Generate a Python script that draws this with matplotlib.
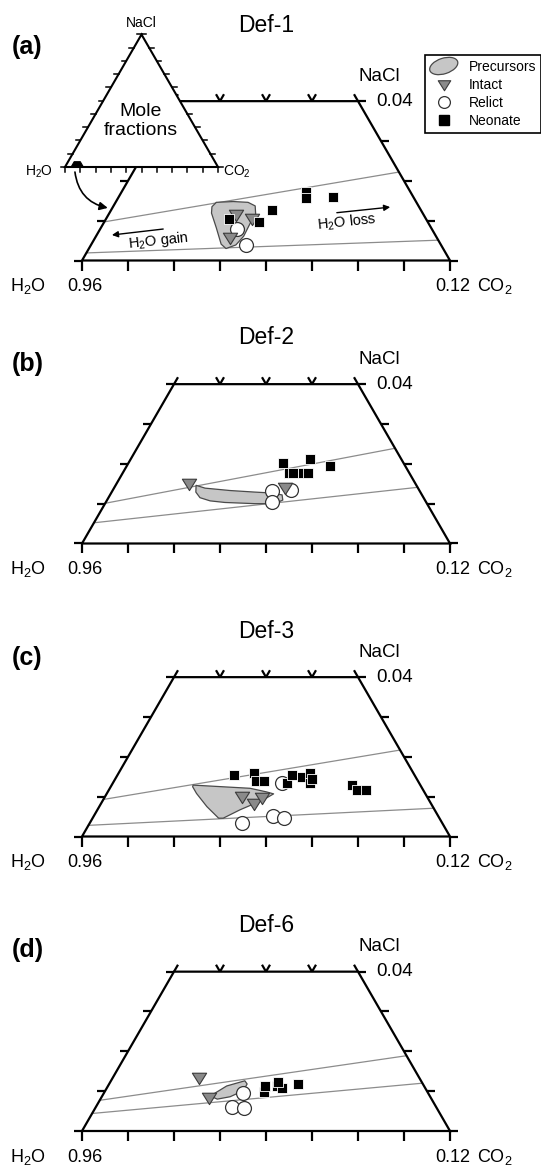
import numpy as np
import matplotlib
matplotlib.use("Agg")
import matplotlib.pyplot as plt
from matplotlib.patches import Polygon, Ellipse, Patch
from matplotlib.lines import Line2D
from matplotlib.path import Path
from matplotlib.legend_handler import HandlerPatch

plt.rcParams['font.family'] = ['Liberation Sans', 'DejaVu Sans']
plt.rcParams['mathtext.fontset'] = 'custom'
plt.rcParams['mathtext.rm'] = 'Liberation Sans'
plt.rcParams['mathtext.it'] = 'Liberation Sans:italic'

# inclusion compositions as (CO2, NaCl) mole fractions, H2O = 1 - CO2 - NaCl
def1_precursor = [(0.0615, 0.0135), (0.0619, 0.0146), (0.0655, 0.0148), (0.0688, 0.0146),
                  (0.0708, 0.0137), (0.0719, 0.0117), (0.0719, 0.0092), (0.0721, 0.0061),
                  (0.0715, 0.0039), (0.0698, 0.0030), (0.0682, 0.0041), (0.0651, 0.0082),
                  (0.0622, 0.0119)]
def1_intact = [(0.0676, 0.0117), (0.0716, 0.0106), (0.0693, 0.0058)]
def1_relict = [(0.0698, 0.0078), (0.0736, 0.0039)]
def1_neonate = [(0.0668, 0.0104), (0.0737, 0.0096), (0.0751, 0.0126), (0.0801, 0.0171),
                (0.0808, 0.0156), (0.0867, 0.0159)]
def1_trends = [[(0.040, 0.0097), (0.0978, 0.0222)], [(0.040, 0.0019), (0.1149, 0.0051)]]

def2_precursor = [(0.0575, 0.0146), (0.0598, 0.0139), (0.0655, 0.0133), (0.0712, 0.0129),
                  (0.0745, 0.0127), (0.0774, 0.0122), (0.0782, 0.0109), (0.0769, 0.0100),
                  (0.0726, 0.0100), (0.0659, 0.0103), (0.0625, 0.0107), (0.0599, 0.0115),
                  (0.0583, 0.0129)]
def2_intact = [(0.0557, 0.0152), (0.0769, 0.0143)]
def2_relict = [(0.0746, 0.0133), (0.0760, 0.0105), (0.0788, 0.0134)]
def2_neonate = [(0.0737, 0.0201), (0.0790, 0.0212), (0.0842, 0.0195), (0.0762, 0.0176),
                (0.0771, 0.0176), (0.0793, 0.0176), (0.0803, 0.0176)]
def2_trends = [[(0.040, 0.0101), (0.0961, 0.0239)], [(0.040, 0.0052), (0.1059, 0.0141)]]

def3_precursor = [(0.0577, 0.0129), (0.0705, 0.0121), (0.0745, 0.0112), (0.0763, 0.0107),
                  (0.0748, 0.0092), (0.0710, 0.0067), (0.0684, 0.0046), (0.0674, 0.0046),
                  (0.0634, 0.0075), (0.0595, 0.0108), (0.0578, 0.0125)]
def3_intact = [(0.0697, 0.0102), (0.0732, 0.0084), (0.0742, 0.0099)]
def3_relict = [(0.0767, 0.0134), (0.0730, 0.0035), (0.0789, 0.0051), (0.0816, 0.0047)]
def3_neonate = [(0.0653, 0.0154), (0.0694, 0.0159), (0.0709, 0.0139), (0.0726, 0.0139),
                (0.0779, 0.0134), (0.0780, 0.0154), (0.0804, 0.0149), (0.0816, 0.0159),
                (0.0829, 0.0134), (0.0827, 0.0144), (0.0922, 0.0129), (0.0939, 0.0117),
                (0.0959, 0.0117)]
def3_trends = [[(0.040, 0.0093), (0.0983, 0.0217)], [(0.040, 0.0028), (0.1129, 0.0071)]]

def6_precursor = [(0.0637, 0.0090), (0.0658, 0.0113), (0.0691, 0.0126), (0.0700, 0.0118),
                  (0.0700, 0.0101), (0.0679, 0.0086), (0.0654, 0.0080), (0.0642, 0.0085)]
def6_intact = [(0.0587, 0.0136), (0.0634, 0.0085)]
def6_relict = [(0.0702, 0.0095), (0.0695, 0.0061), (0.0724, 0.0057)]
def6_neonate = [(0.0746, 0.0099), (0.0740, 0.0114), (0.0767, 0.0113), (0.0781, 0.0108),
                (0.0766, 0.0122), (0.0811, 0.0117)]
def6_trends = [[(0.040, 0.0077), (0.1011, 0.0189)], [(0.040, 0.0044), (0.1080, 0.0120)]]

titles = ['Def-1', 'Def-2', 'Def-3', 'Def-6']
letters = ['(a)', '(b)', '(c)', '(d)']

# H2O gain / loss arrows in Def-1
gain_arrow = [(0.0537, 0.0079), (0.0433, 0.0064)]
gain_label = (0.0540, 0.0050)
loss_arrow = [(0.0894, 0.0120), (0.1003, 0.0134)]
loss_label = (0.0928, 0.0095)

samples = [
    (def1_precursor, def1_intact, def1_relict, def1_neonate, def1_trends),
    (def2_precursor, def2_intact, def2_relict, def2_neonate, def2_trends),
    (def3_precursor, def3_intact, def3_relict, def3_neonate, def3_trends),
    (def6_precursor, def6_intact, def6_relict, def6_neonate, def6_trends),
]

SQ3 = np.sqrt(3)
W, H = 541, 1168
S = 4600.0           # pixels per mole-fraction unit in the zoomed diagrams
PX = 1.0 / S
base_px = [260.5, 543.5, 836.5, 1131.0]
title_off = [235.5, 205.5, 205.5, 205.5]
letter_off = [213.5, 179, 179, 181]

c_prec, c_prec_edge = '#c6c6c6', '#4a4a4a'
c_tri, c_tri_edge = '#8a8a8a', '#3a3a3a'
c_line = '#8c8c8c'

tri_marker = Path([(-1, 0.6), (1, 0.6), (0, -1.0), (-1, 0.6)],
                  [Path.MOVETO, Path.LINETO, Path.LINETO, Path.CLOSEPOLY])


def cart(pts):
    pts = np.asarray(pts, dtype=float)
    co2, nacl = pts[:, 0], pts[:, 1]
    return co2 + nacl / 2, nacl * SQ3 / 2


def draw_frame(ax):
    kw = dict(color='black', lw=1.6, solid_capstyle='butt', zorder=2, clip_on=False)
    x, y = cart([(0.04, 0), (0.12, 0), (0.08, 0.04), (0.04, 0.04), (0.04, 0)])
    ax.plot(x, y, solid_joinstyle='miter', **kw)
    for co2 in np.arange(0.04, 0.1201, 0.01):
        ax.plot([co2, co2], [0, -10 * PX], **kw)
    for nacl in np.arange(0, 0.0401, 0.01):
        xl, yl = cart([(0.04, nacl)])
        ax.plot([xl[0] - 8 * PX, xl[0]], [yl[0], yl[0]], **kw)
        xr, yr = cart([(0.12 - nacl, nacl)])
        ax.plot([xr[0], xr[0] + 8 * PX], [yr[0], yr[0]], **kw)
    arm = 8 * PX
    for co2 in [0.04, 0.05, 0.06, 0.07]:
        x, y = cart([(co2, 0.04)])
        ax.plot([x[0], x[0] + arm / 2], [y[0], y[0] + arm * SQ3 / 2], **kw)
    for co2 in [0.05, 0.06, 0.07, 0.08]:
        x, y = cart([(co2, 0.04)])
        ax.plot([x[0], x[0] - arm / 2], [y[0], y[0] + arm * SQ3 / 2], **kw)


fig = plt.figure(figsize=(W / 100, H / 100), dpi=100)
fig.patch.set_facecolor('white')

axes = []
for i, (prec, intact, relict, neonate, trends) in enumerate(samples):
    B = base_px[i]
    ax = fig.add_axes([0, 0, 1, 1])
    ax.set_xlim(0.04 - 82 / S, 0.04 + (W - 82) / S)
    ax.set_ylim((B - H) / S, B / S)
    ax.set_axis_off()
    axes.append(ax)

    for seg in trends:
        x, y = cart(seg)
        ax.plot(x, y, color=c_line, lw=0.9, zorder=1)
    draw_frame(ax)

    ax.add_patch(Polygon(np.column_stack(cart(prec)), closed=True, fc=c_prec,
                         ec=c_prec_edge, lw=0.9, joinstyle='round', zorder=3))
    x, y = cart(relict)
    ax.scatter(x, y, marker='o', s=100, fc='white', ec='#333333', lw=0.9, zorder=4)
    x, y = cart(intact)
    ax.scatter(x, y, marker=tri_marker, s=105, fc=c_tri, ec=c_tri_edge, lw=0.8, zorder=5)
    x, y = cart(neonate)
    ax.scatter(x, y, marker='s', s=62, fc='black', ec='white', lw=0.6, zorder=6)

    # axis labels around the trapezoid
    lx, ly = 0.04, 0.0
    rx, ry = 0.12, 0.0
    tx, ty = cart([(0.08, 0.04)])
    tx, ty = tx[0], ty[0]
    lab = dict(textcoords='offset pixels', ha='center', va='center', fontsize=13)
    ax.annotate('H$_2$O', (lx, ly), xytext=(-54.5, -26), **lab)
    ax.annotate('0.96', (lx, ly), xytext=(3, -26), **lab)
    ax.annotate('0.12', (rx, ry), xytext=(3, -26), **lab)
    ax.annotate('CO$_2$', (rx, ry), xytext=(45, -26), **lab)
    ax.annotate('0.04', (tx, ty), xytext=(18, 0), textcoords='offset pixels',
                ha='left', va='center', fontsize=13.5)
    ax.annotate('NaCl', (tx, ty), xytext=(21, 25), textcoords='offset pixels',
                ha='center', va='center', fontsize=13.5)
    ax.annotate(titles[i], (0.08, 0), xytext=(0, title_off[i]), textcoords='offset pixels',
                ha='center', va='center', fontsize=16.5)
    ax.annotate(letters[i], (0.04, 0), xytext=(-70, letter_off[i]), textcoords='offset pixels',
                ha='left', va='center', fontsize=18, fontweight='bold')

ax_a = axes[0]

# H2O gain / loss arrows
arrow_kw = dict(arrowstyle='-|>', color='black', lw=1.0, mutation_scale=9, shrinkA=0, shrinkB=0)
x, y = cart(gain_arrow)
ax_a.annotate('', xy=(x[1], y[1]), xytext=(x[0], y[0]), arrowprops=arrow_kw)
x, y = cart(loss_arrow)
ax_a.annotate('', xy=(x[1], y[1]), xytext=(x[0], y[0]), arrowprops=arrow_kw)
x, y = cart([gain_label])
ax_a.text(x[0], y[0], 'H$_2$O gain', rotation=6, rotation_mode='anchor',
          ha='center', va='center', fontsize=10.5)
x, y = cart([loss_label])
ax_a.text(x[0], y[0], 'H$_2$O loss', rotation=6, rotation_mode='anchor',
          ha='center', va='center', fontsize=10.5)

# full ternary inset (side = 1 in mole fraction)
SI = 153.0
ox, oy = 65, 167
ax_in = fig.add_axes([0, 0, 1, 1])
ax_in.set_xlim(-ox / SI, (W - ox) / SI)
ax_in.set_ylim((oy - H) / SI, oy / SI)
ax_in.set_axis_off()

x, y = cart([(0, 0), (1, 0), (0, 1)])
ax_in.add_patch(Polygon(np.column_stack([x, y]), closed=True, fc='white', ec='black',
                        lw=1.5, joinstyle='miter', zorder=1))
tk = 4.5 / SI
tick_kw = dict(color='black', lw=1.1, zorder=2, clip_on=False)
for t in np.linspace(0, 1, 11):
    ax_in.plot([t, t], [0, -tk], **tick_kw)
    xl, yl = cart([(0, t)])
    ax_in.plot([xl[0] - tk, xl[0]], [yl[0], yl[0]], **tick_kw)
    xr, yr = cart([(1 - t, t)])
    ax_in.plot([xr[0], xr[0] + tk], [yr[0], yr[0]], **tick_kw)

x, y = cart([(0.04, 0), (0.12, 0), (0.08, 0.04), (0.04, 0.04)])
ax_in.add_patch(Polygon(np.column_stack([x, y]), closed=True, fc='black', ec='black',
                        lw=0.8, zorder=3))
ax_in.annotate('NaCl', (0.5, SQ3 / 2), xytext=(0, 11), textcoords='offset pixels',
               ha='center', va='center', fontsize=10)
ax_in.annotate('H$_2$O', (0, 0), xytext=(-12, -5), textcoords='offset pixels',
               ha='right', va='center', fontsize=10)
ax_in.annotate('CO$_2$', (1, 0), xytext=(5, -5), textcoords='offset pixels',
               ha='left', va='center', fontsize=10)
ax_in.text(0.497, 0.30, 'Mole\nfractions', ha='center', va='center', fontsize=14,
           linespacing=1.1, zorder=4)

xe, ye = cart([(0.039, 0.0132)])
ax_in.annotate('', xy=(xe[0], ye[0]), xycoords=ax_a.transData,
               xytext=(0.065, -0.033), textcoords='data',
               arrowprops=dict(arrowstyle='-|>', color='black', lw=1.2, mutation_scale=12,
                               shrinkA=0, shrinkB=0, connectionstyle='arc3,rad=0.35'))


def blob_handle(legend, orig_handle, xdescent, ydescent, width, height, fontsize):
    return Ellipse((width / 2 - xdescent, height / 2 - ydescent), width=width * 1.05,
                   height=height * 1.6, angle=18)


handles = [
    Patch(fc=c_prec, ec=c_prec_edge, lw=0.9),
    Line2D([], [], ls='none', marker=tri_marker, ms=9, mfc=c_tri, mec=c_tri_edge, mew=0.8),
    Line2D([], [], ls='none', marker='o', ms=8.5, mfc='white', mec='#333333', mew=0.9),
    Line2D([], [], ls='none', marker='s', ms=7, mfc='black', mec='black'),
]
leg = fig.legend(handles, ['Precursors', 'Intact', 'Relict', 'Neonate'],
                 loc='upper left', bbox_to_anchor=(425 / W, 1 - 55 / H),
                 handler_map={Patch: HandlerPatch(patch_func=blob_handle)},
                 fontsize=10, frameon=True, fancybox=False, edgecolor='black',
                 framealpha=1, borderaxespad=0, borderpad=0.35, handlelength=2.0,
                 handletextpad=0.8, labelspacing=0.3)
leg.get_frame().set_linewidth(1.2)

fig.savefig('out.png', dpi=100, facecolor='white')
